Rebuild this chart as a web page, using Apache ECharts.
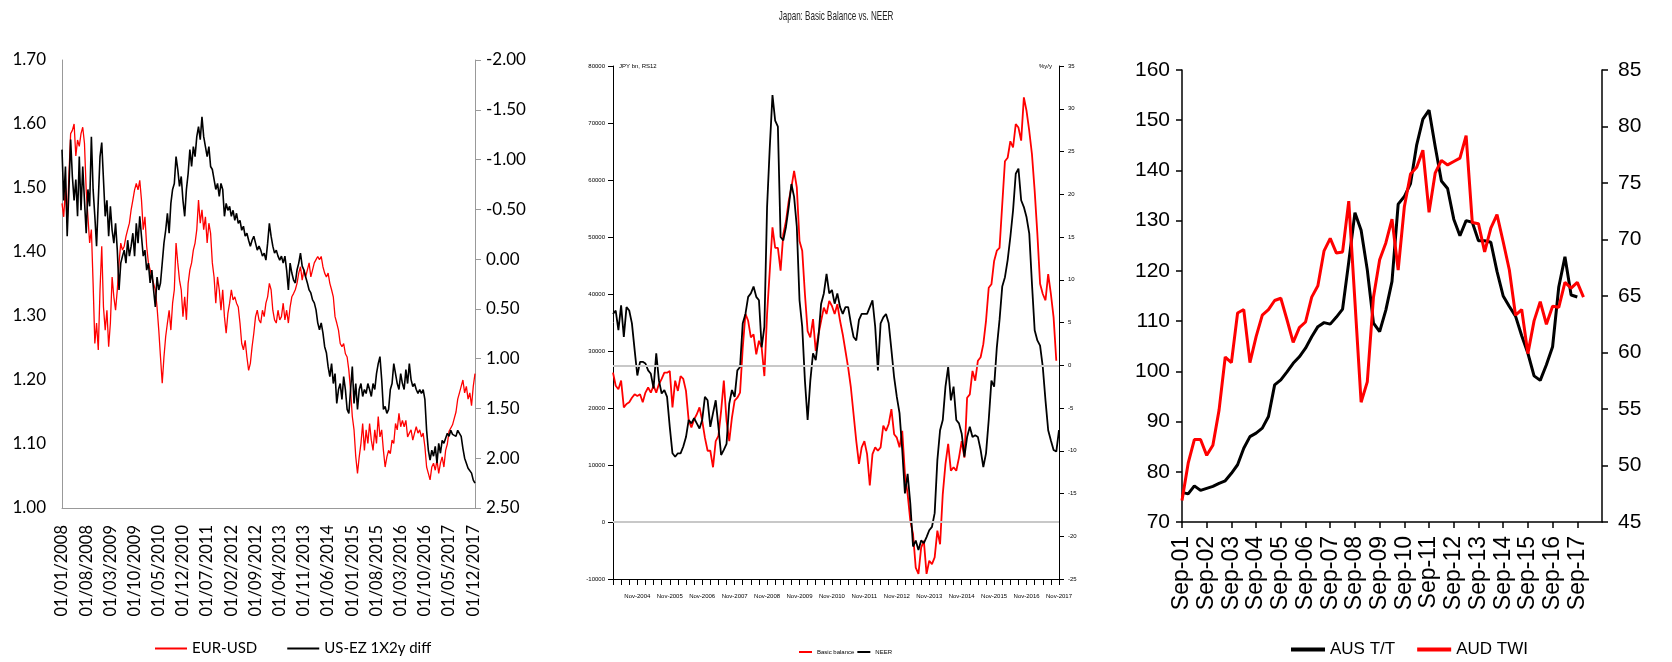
<!DOCTYPE html>
<html>
<head>
<meta charset="utf-8">
<title>Japan: Basic Balance vs. NEER</title>
<script src="https://cdn.jsdelivr.net/npm/echarts@6/dist/echarts.min.js"></script>
<style>
  html, body { margin: 0; padding: 0; background: #fff; }
  #chart { width: 1672px; height: 662px; }
</style>
</head>
<body>
<div id="chart"></div>
<script>
// left panel: semi-monthly, 01/01/2008 .. 16/12/2017
var eurUsd = [
  1.476,1.455,1.50,1.445,1.52,1.585,1.59,1.60,1.55,1.575,1.565,1.585,1.595,1.57,1.497,1.455,1.414,1.435,1.351,1.257,
  1.289,1.247,1.341,1.409,1.314,1.278,1.309,1.252,1.289,1.361,1.33,1.309,1.341,1.383,1.414,1.403,1.409,1.424,1.435,1.445,
  1.466,1.481,1.497,1.507,1.497,1.512,1.481,1.435,1.455,1.409,1.383,1.372,1.361,1.351,1.341,1.314,1.278,1.236,1.195,1.236,
  1.268,1.289,1.309,1.278,1.32,1.341,1.414,1.383,1.356,1.341,1.299,1.33,1.294,1.351,1.372,1.383,1.403,1.414,1.435,1.481,
  1.445,1.466,1.435,1.455,1.414,1.445,1.429,1.383,1.361,1.32,1.361,1.341,1.309,1.341,1.299,1.273,1.304,1.32,1.341,1.325,
  1.33,1.32,1.314,1.289,1.257,1.247,1.262,1.236,1.215,1.226,1.252,1.273,1.299,1.309,1.294,1.289,1.309,1.299,1.32,1.33,
  1.351,1.341,1.309,1.294,1.289,1.309,1.294,1.299,1.32,1.294,1.309,1.289,1.314,1.33,1.335,1.341,1.351,1.367,1.377,1.356,
  1.372,1.361,1.372,1.383,1.361,1.372,1.383,1.388,1.393,1.388,1.393,1.377,1.367,1.361,1.367,1.351,1.341,1.33,1.299,1.289,
  1.278,1.257,1.252,1.257,1.241,1.236,1.215,1.184,1.143,1.122,1.08,1.054,1.08,1.101,1.132,1.09,1.122,1.101,1.132,1.106,
  1.09,1.122,1.101,1.143,1.111,1.122,1.09,1.064,1.08,1.09,1.085,1.106,1.101,1.132,1.122,1.148,1.127,1.137,1.127,1.137,
  1.111,1.117,1.122,1.106,1.117,1.127,1.117,1.122,1.111,1.117,1.096,1.064,1.054,1.044,1.064,1.07,1.059,1.075,1.054,1.07,
  1.08,1.064,1.09,1.10,1.12,1.12,1.13,1.14,1.15,1.17,1.18,1.19,1.20,1.18,1.19,1.17,1.18,1.16,1.19,1.21
];
var usEzDiff = [
  -1.10,-0.59,-0.93,-0.23,-0.70,-1.20,-0.83,-0.59,-0.80,-0.43,-1.03,-0.49,-0.93,-0.59,-0.26,-0.70,-0.53,-1.23,-0.70,-0.43,
  -0.13,-0.59,-1.03,-1.17,-0.80,-0.43,-0.59,-0.23,-0.53,-0.29,-0.16,-0.36,-0.09,0.31,0.04,-0.03,-0.09,0.04,-0.19,-0.03,
  -0.13,-0.26,-0.03,-0.36,-0.16,-0.43,-0.23,-0.03,-0.09,0.11,0.04,0.24,0.11,0.31,0.48,0.18,0.31,0.24,0.04,-0.16,
  -0.29,-0.46,-0.26,-0.56,-0.70,-0.76,-1.03,-0.90,-0.73,-0.83,-0.59,-0.43,-0.70,-0.86,-1.10,-0.93,-1.13,-1.03,-1.23,-1.33,
  -1.20,-1.43,-1.23,-1.13,-1.03,-1.13,-0.93,-0.90,-0.80,-0.70,-0.76,-0.63,-0.76,-0.70,-0.43,-0.56,-0.49,-0.53,-0.43,-0.49,
  -0.39,-0.46,-0.36,-0.39,-0.29,-0.33,-0.23,-0.26,-0.19,-0.13,-0.19,-0.23,-0.16,-0.09,-0.13,-0.09,-0.03,-0.06,0.01,-0.16,
  -0.36,-0.23,-0.13,-0.06,-0.09,-0.03,0.01,-0.03,0.04,-0.03,0.11,0.31,0.04,0.14,0.21,0.24,0.11,0.04,-0.06,0.07,
  0.11,0.18,0.24,0.31,0.34,0.41,0.44,0.51,0.64,0.71,0.64,0.74,0.88,0.94,1.08,1.18,1.05,1.25,1.15,1.45,
  1.31,1.25,1.41,1.18,1.31,1.51,1.55,1.31,1.08,1.45,1.25,1.51,1.31,1.25,1.38,1.31,1.35,1.25,1.31,1.38,
  1.25,1.31,1.15,1.05,0.98,1.21,1.51,1.48,1.55,1.51,1.31,1.25,1.05,1.15,1.25,1.31,1.15,1.25,1.31,1.11,
  1.25,1.05,1.21,1.28,1.25,1.31,1.35,1.31,1.35,1.31,1.41,1.72,1.92,2.02,1.92,1.98,1.88,2.05,1.85,1.95,
  1.82,1.85,1.80,1.75,1.78,1.72,1.76,1.74,1.78,1.72,1.75,1.78,1.90,2.00,2.05,2.10,2.12,2.15,2.22,2.25
];

// middle panel: monthly from Feb-2004; basic balance JPY bn (left), NEER %y/y (right)
var basicBalance = [
  26200,23900,23300,24800,20100,20700,21000,21800,22400,22100,22400,21000,22700,23600,22700,23900,22700,24200,25100,26200,
  26200,26500,20100,24800,23000,25600,25100,23000,17800,16600,18000,18900,20100,17800,14800,12500,12500,9600,14200,15100,
  19500,24800,17800,14200,18300,21300,21800,22700,30600,36500,35300,32400,32900,29400,31800,30600,25600,36500,44100,51700,
  48100,48100,44100,50500,52800,56300,58700,61600,58700,49300,47600,40000,33500,32400,35600,30000,32900,35300,37600,36500,
  38800,37900,36500,38200,35300,32900,30000,27100,23600,18900,14200,10200,13100,14200,11900,6400,11900,13100,12500,13100,
  16900,16000,17200,19800,15400,14800,13100,16000,8400,4900,200,-2100,-8000,-9100,-4500,-3300,-9100,-6800,-7400,-6200,
  -1500,-3900,4900,10200,13700,9000,9600,9000,11300,14200,11300,21800,22400,26500,24800,28300,28900,31200,35300,41100,
  41700,45800,47600,48100,55700,63300,63900,66800,65700,69800,69200,66900,74500,72100,68600,64500,58100,50500,41800,40000,
  38900,43500,40000,35900,28300
];
var neer = [
  6.0,6.4,4.1,7.0,3.3,6.8,6.4,4.9,1.8,-1.2,0.4,0.4,0.2,-0.6,-1.0,-2.7,1.4,-1.8,-3.3,-2.9,
  -3.7,-7.2,-10.3,-10.7,-10.3,-10.3,-9.5,-8.4,-6.4,-6.8,-6.2,-6.8,-7.4,-6.4,-3.7,-4.1,-7.2,-5.6,-4.1,-7.2,
  -10.5,-9.9,-9.2,-4.5,-2.9,-3.7,-0.6,-0.2,4.9,6.0,8.0,8.4,9.2,8.0,7.6,2.1,4.5,18.5,25.5,31.6,
  28.6,27.9,15.0,14.6,16.2,18.5,21.2,19.7,16.2,7.6,4.5,-1.8,-6.4,-1.8,1.4,0.6,3.3,7.2,8.4,10.7,
  8.4,8.8,7.2,8.4,6.8,6.0,6.8,6.8,4.9,3.3,2.9,5.3,6.0,6.0,6.0,6.8,7.6,4.5,-0.6,4.9,
  5.6,6.0,4.9,1.8,-1.4,-3.7,-5.6,-9.9,-15.0,-12.7,-16.2,-21.2,-20.5,-21.6,-20.5,-20.8,-20.1,-19.3,-18.9,-17.3,
  -11.1,-7.6,-6.4,-2.5,-0.2,-4.1,-2.5,-6.4,-6.8,-8.0,-10.7,-8.4,-7.2,-8.4,-8.2,-8.4,-9.9,-11.9,-10.3,-6.4,
  -1.8,-2.5,2.1,5.3,9.2,10.3,12.3,15.0,18.1,22.4,23.0,19.3,18.5,17.3,15.4,9.5,4.1,2.9,2.3,-0.2,
  -4.1,-7.6,-8.8,-9.9,-10.1,-7.6
];

// right panel: quarterly from Sep-01
var ausTT = [
  75.9,75.6,77.2,76.3,76.7,77.1,77.7,78.2,79.7,81.4,84.7,87.0,87.7,88.7,91.0,97.3,98.3,99.9,101.6,102.9,
  104.6,106.9,108.9,109.7,109.4,110.8,112.4,121.8,131.6,128.1,120.2,109.6,107.9,112.2,117.9,133.3,134.8,137.4,145.1,150.2,
  152.0,144.7,137.9,136.4,130.3,127.0,130.0,129.7,126.0,126.0,125.7,119.9,115.0,112.9,111.0,107.1,103.6,99.1,98.2,101.3,
  104.9,116.8,122.8,115.2,114.8
];
var audTWI = [
  46.9,50.2,52.3,52.3,50.9,51.8,54.9,59.6,59.1,63.5,63.8,59.1,61.4,63.3,63.8,64.6,64.8,62.9,60.9,62.2,
  62.7,64.9,65.9,69.0,70.1,68.8,68.9,73.4,64.5,55.6,57.4,64.9,68.2,69.7,71.8,67.3,72.9,75.8,76.4,77.9,
  72.4,75.9,77.0,76.6,76.9,77.2,79.2,71.5,71.4,68.9,71.0,72.2,69.8,67.3,63.3,63.8,59.9,62.8,64.5,62.5,
  64.1,64.0,66.2,65.7,66.2,64.9
];

var monNames = ['Jan','Feb','Mar','Apr','May','Jun','Jul','Aug','Sep','Oct','Nov','Dec'];

var halfMonthDates = [];
for (var yr = 2008; yr <= 2017; yr++) {
  for (var mo = 1; mo <= 12; mo++) {
    var mm = (mo < 10 ? '0' : '') + mo;
    halfMonthDates.push('01/' + mm + '/' + yr, '16/' + mm + '/' + yr);
  }
}
var japanMonths = [];
for (var i = 0; i < 166; i++) {
  var t = 1 + i; // Feb-2004 onwards
  japanMonths.push(monNames[t % 12] + '-' + (2004 + Math.floor(t / 12)));
}
var quarters = [];
for (var j = 0; j < 69; j++) {
  var q = 8 + 3 * j; // Sep-01 onwards
  var yy = 1 + Math.floor(q / 12);
  quarters.push(monNames[q % 12] + '-' + (yy < 10 ? '0' : '') + yy);
}

var calibriLike = "Lato, 'Open Sans', sans-serif";
var arial = "'Liberation Sans', Arial, sans-serif";

var chart = echarts.init(document.getElementById('chart'));

var grayLine = { silent: true, symbol: 'none', label: { show: false },
  lineStyle: { color: '#c8c8c8', width: 2, type: 'solid' }, data: [{ yAxis: 0 }] };

chart.setOption({
  animation: false,
  backgroundColor: '#fff',
  graphic: [{
    type: 'text', x: 836, y: 16, scaleX: 0.62,
    style: { text: 'Japan: Basic Balance vs. NEER', fontSize: 13, fontFamily: arial,
      fill: '#222', textAlign: 'center', textVerticalAlign: 'middle' }
  }],
  legend: [
    { data: ['EUR-USD', 'US-EZ 1X2y diff'], left: 150, top: 636, icon: 'rect',
      itemWidth: 32, itemHeight: 2, itemGap: 30,
      textStyle: { fontSize: 15, fontFamily: calibriLike, color: '#000' } },
    { data: ['Basic balance', 'NEER'], left: 794, top: 644, icon: 'rect',
      itemWidth: 13, itemHeight: 2, itemGap: 3,
      textStyle: { fontSize: 6, fontFamily: arial, color: '#000' } },
    { data: ['AUS T/T', 'AUD TWI'], left: 1286, top: 636, icon: 'rect',
      itemWidth: 34, itemHeight: 4, itemGap: 22,
      textStyle: { fontSize: 17, fontFamily: arial, color: '#000' } }
  ],
  grid: [
    { left: 62, right: 1197, top: 60, bottom: 154 },
    { left: 613, right: 613, top: 66, bottom: 83 },
    { left: 1182, right: 70, top: 70, bottom: 140 }
  ],
  xAxis: [
    { gridIndex: 0, type: 'category', data: halfMonthDates, boundaryGap: false,
      axisLine: { onZero: false, lineStyle: { color: '#999' } }, axisTick: { show: false },
      axisLabel: { rotate: 90, interval: function (i) { return i % 14 === 0; },
        fontSize: 16.5, fontFamily: calibriLike, color: '#000', margin: 17 } },
    { gridIndex: 1, type: 'category', data: japanMonths, boundaryGap: false,
      axisLine: { onZero: false, lineStyle: { color: '#000' } },
      axisTick: { interval: function (i) { return i % 3 === 0; }, length: 6, lineStyle: { color: '#000' } },
      axisLabel: { interval: function (i) { return i % 12 === 9; },
        fontSize: 6, fontFamily: arial, color: '#000', margin: 14 } },
    { gridIndex: 2, type: 'category', data: quarters, boundaryGap: false,
      axisLine: { onZero: false, lineStyle: { color: '#000', width: 1.5 } },
      axisTick: { interval: function (i) { return i % 4 === 0 && i <= 64; }, length: 6, lineStyle: { color: '#000', width: 1.5 } },
      axisLabel: { rotate: 90, interval: function (i) { return i % 4 === 0 && i <= 64; },
        fontSize: 23, fontFamily: arial, color: '#000', margin: 14 } }
  ],
  yAxis: [
    { gridIndex: 0, type: 'value', min: 1, max: 1.7, interval: 0.1,
      axisLine: { show: true, lineStyle: { color: '#999' } }, axisTick: { show: false },
      splitLine: { show: false },
      axisLabel: { formatter: function (v) { return v.toFixed(2); },
        fontSize: 17, fontFamily: calibriLike, color: '#000', margin: 16 } },
    { gridIndex: 0, type: 'value', position: 'right', inverse: true, min: -2, max: 2.5, interval: 0.5,
      axisLine: { show: true, lineStyle: { color: '#999' } },
      axisTick: { show: true, length: 6, lineStyle: { color: '#999' } },
      splitLine: { show: false },
      axisLabel: { formatter: function (v) { return v.toFixed(2); },
        fontSize: 17, fontFamily: calibriLike, color: '#000', margin: 11 } },
    { gridIndex: 1, type: 'value', min: -10000, max: 80000, interval: 10000,
      name: 'JPY bn, RS12', nameLocation: 'end', nameGap: 0,
      nameTextStyle: { fontSize: 6, fontFamily: arial, color: '#000', align: 'left', verticalAlign: 'middle', padding: [0, 0, 0, 6] },
      axisLine: { show: true, lineStyle: { color: '#000' } },
      axisTick: { show: true, length: 5, lineStyle: { color: '#000' } },
      splitLine: { show: false },
      axisLabel: { formatter: function (v) { return String(v); },
        fontSize: 6, fontFamily: arial, color: '#000', margin: 8 } },
    { gridIndex: 1, type: 'value', position: 'right', min: -25, max: 35, interval: 5,
      name: '%y/y', nameLocation: 'end', nameGap: 0,
      nameTextStyle: { fontSize: 6, fontFamily: arial, color: '#000', align: 'right', verticalAlign: 'middle', padding: [0, 7, 0, 0] },
      axisLine: { show: true, lineStyle: { color: '#000' } },
      axisTick: { show: true, length: 5, lineStyle: { color: '#000' } },
      splitLine: { show: false },
      axisLabel: { fontSize: 6, fontFamily: arial, color: '#000', margin: 9 } },
    { gridIndex: 2, type: 'value', min: 70, max: 160, interval: 10,
      axisLine: { show: true, lineStyle: { color: '#000', width: 1.5 } },
      axisTick: { show: true, length: 6, lineStyle: { color: '#000', width: 1.5 } },
      splitLine: { show: false },
      axisLabel: { fontSize: 21, fontFamily: arial, color: '#000', margin: 12 } },
    { gridIndex: 2, type: 'value', position: 'right', min: 45, max: 85, interval: 5,
      axisLine: { show: true, lineStyle: { color: '#000', width: 1.5 } },
      axisTick: { show: true, length: 6, lineStyle: { color: '#000', width: 1.5 } },
      splitLine: { show: false },
      axisLabel: { fontSize: 21, fontFamily: arial, color: '#000', margin: 16 } }
  ],
  series: [
    { name: 'EUR-USD', type: 'line', xAxisIndex: 0, yAxisIndex: 0, data: eurUsd,
      showSymbol: false, lineStyle: { color: '#ff0000', width: 1.3 }, itemStyle: { color: '#ff0000' } },
    { name: 'US-EZ 1X2y diff', type: 'line', xAxisIndex: 0, yAxisIndex: 1, data: usEzDiff,
      showSymbol: false, lineStyle: { color: '#000', width: 1.6 }, itemStyle: { color: '#000' } },
    { name: 'Basic balance', type: 'line', xAxisIndex: 1, yAxisIndex: 2, data: basicBalance,
      showSymbol: false, lineStyle: { color: '#ff0000', width: 1.8 }, itemStyle: { color: '#ff0000' },
      markLine: grayLine },
    { name: 'NEER', type: 'line', xAxisIndex: 1, yAxisIndex: 3, data: neer,
      showSymbol: false, lineStyle: { color: '#000', width: 1.8 }, itemStyle: { color: '#000' },
      markLine: grayLine },
    { name: 'AUS T/T', type: 'line', xAxisIndex: 2, yAxisIndex: 4, data: ausTT,
      showSymbol: false, lineStyle: { color: '#000', width: 3 }, itemStyle: { color: '#000' } },
    { name: 'AUD TWI', type: 'line', xAxisIndex: 2, yAxisIndex: 5, data: audTWI,
      showSymbol: false, lineStyle: { color: '#ff0000', width: 3 }, itemStyle: { color: '#ff0000' } }
  ]
});
</script>
</body>
</html>
